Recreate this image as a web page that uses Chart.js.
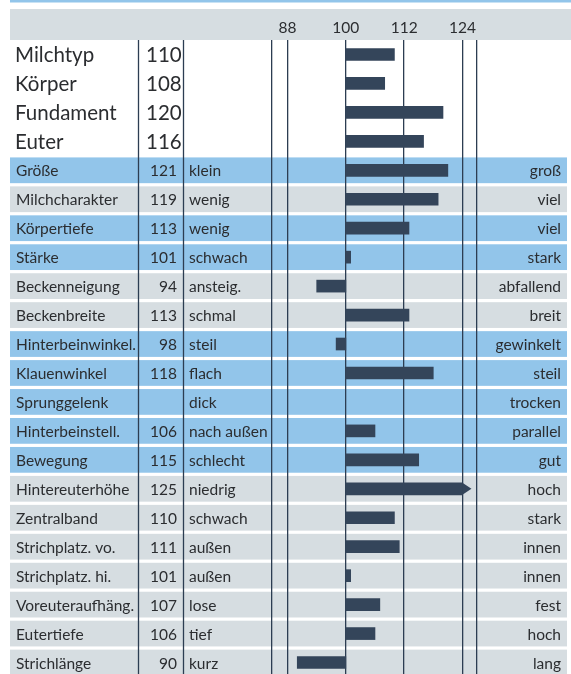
<!DOCTYPE html>
<html>
<head>
<meta charset="utf-8">
<script src="https://cdn.jsdelivr.net/npm/chart.js@4.4.1/dist/chart.umd.min.js"></script>
<style>
  html, body { margin: 0; padding: 0; background: #fff; overflow: hidden; }
</style>
</head>
<body>
<canvas id="zuchtwerte" width="571" height="680"></canvas>
<script>
// Gesamtzuchtwerte (oben, große Schrift)
const topTraits = ['Milchtyp', 'Körper', 'Fundament', 'Euter'];
const topValues = [110, 108, 120, 116];

// Einzelmerkmale
const traits = ['Größe', 'Milchcharakter', 'Körpertiefe', 'Stärke', 'Beckenneigung', 'Beckenbreite',
  'Hinterbeinwinkel.', 'Klauenwinkel', 'Sprunggelenk', 'Hinterbeinstell.', 'Bewegung', 'Hintereuterhöhe',
  'Zentralband', 'Strichplatz. vo.', 'Strichplatz. hi.', 'Voreuteraufhäng.', 'Eutertiefe', 'Strichlänge'];
const values = [121, 119, 113, 101, 94, 113, 98, 118, null, 106, 115, 125, 110, 111, 101, 107, 106, 90];
const lowLabels = ['klein', 'wenig', 'wenig', 'schwach', 'ansteig.', 'schmal', 'steil', 'flach', 'dick',
  'nach außen', 'schlecht', 'niedrig', 'schwach', 'außen', 'außen', 'lose', 'tief', 'kurz'];
const highLabels = ['groß', 'viel', 'viel', 'stark', 'abfallend', 'breit', 'gewinkelt', 'steil', 'trocken',
  'parallel', 'gut', 'hoch', 'stark', 'innen', 'innen', 'fest', 'hoch', 'lang'];
// blau hinterlegte Zeilen
const highlighted = [true, false, true, true, false, false, true, true, true, true, true,
  false, false, false, false, false, false, false];

const tickValues = [88, 100, 112, 124];
const AXIS_MIN = 84.8;
const AXIS_MAX = 127;
const BASE = 100;
const CAP = 124; // darüber wird ein Pfeil gezeichnet

const BLUE = '#92c5ea';
const GREY = '#d6dde1';
const INK = '#2b2d30';
const LINE = '#2c3d52';
const BAR = '#34455a';
const FONT = 'Lato, "Open Sans", sans-serif';

const labels = topTraits.concat(traits);
const allValues = topValues.concat(values);
const nTop = topTraits.length;

const tablePlugin = {
  id: 'table',
  beforeDraw(chart) {
    const ctx = chart.ctx;
    const y = chart.scales.y;
    const band = y.getPixelForValue(1) - y.getPixelForValue(0);
    ctx.save();
    // obere blaue Linie + Kopfzeile
    ctx.fillStyle = BLUE;
    ctx.fillRect(10, 0, 561, 2.5);
    ctx.fillStyle = GREY;
    ctx.fillRect(10, 9, 561, chart.chartArea.top - 9);
    // Zeilenbänder
    traits.forEach((t, i) => {
      const cy = y.getPixelForValue(nTop + i);
      ctx.fillStyle = highlighted[i] ? BLUE : GREY;
      ctx.fillRect(10, cy - band / 2 + 1.6, 557, band - 3.2);
    });
    ctx.restore();
  },
  afterDatasetsDraw(chart) {
    const ctx = chart.ctx;
    const meta = chart.getDatasetMeta(0);
    ctx.save();
    ctx.fillStyle = BAR;
    allValues.forEach((v, i) => {
      if (v == null || v <= CAP) return;
      const el = meta.data[i];
      const h = el.height;
      ctx.beginPath();
      ctx.moveTo(el.x, el.y - h / 2);
      ctx.lineTo(el.x + 9, el.y);
      ctx.lineTo(el.x, el.y + h / 2);
      ctx.closePath();
      ctx.fill();
    });
    ctx.restore();
  },
  afterDraw(chart) {
    const ctx = chart.ctx;
    const y = chart.scales.y;
    const top = chart.chartArea.top;
    const bottom = chart.chartArea.bottom;
    ctx.save();
    // Spaltenlinien
    ctx.strokeStyle = LINE;
    ctx.lineWidth = 1.3;
    [138.5, 183.5].forEach(x => {
      ctx.beginPath();
      ctx.moveTo(x, top);
      ctx.lineTo(x, bottom);
      ctx.stroke();
    });
    ctx.fillStyle = INK;
    ctx.textBaseline = 'middle';
    // Gesamtzuchtwerte
    ctx.font = '20.5px ' + FONT;
    topTraits.forEach((t, i) => {
      const cy = y.getPixelForValue(i) + 1;
      ctx.textAlign = 'left';
      ctx.fillText(t, 15, cy);
      ctx.fillText(String(topValues[i]), 146, cy);
    });
    // Einzelmerkmale
    ctx.font = '15.5px ' + FONT;
    traits.forEach((t, i) => {
      const cy = y.getPixelForValue(nTop + i) + 1;
      ctx.textAlign = 'left';
      ctx.fillText(t, 16, cy);
      ctx.fillText(lowLabels[i], 189, cy);
      ctx.textAlign = 'right';
      if (values[i] != null) ctx.fillText(String(values[i]), 177, cy);
      ctx.fillText(highLabels[i], 561, cy);
    });
    ctx.restore();
  }
};

new Chart(document.getElementById('zuchtwerte'), {
  type: 'bar',
  data: {
    labels: labels,
    datasets: [{
      data: allValues.map(v => v == null ? null : [BASE, Math.min(v, CAP)]),
      backgroundColor: BAR,
      barThickness: 12,
      borderWidth: 0
    }]
  },
  options: {
    indexAxis: 'y',
    responsive: false,
    animation: false,
    layout: { padding: { left: 272, right: 94, top: 9, bottom: 3 } },
    plugins: {
      legend: { display: false },
      tooltip: { enabled: false }
    },
    scales: {
      x: {
        position: 'top',
        min: AXIS_MIN,
        max: AXIS_MAX,
        afterBuildTicks: scale => {
          scale.ticks = [AXIS_MIN].concat(tickValues, [AXIS_MAX]).map(v => ({ value: v }));
        },
        afterFit: scale => { scale.height = 31; },
        border: { display: false },
        grid: { color: LINE, lineWidth: 1.3, drawTicks: false },
        ticks: {
          padding: 3,
          maxRotation: 0,
          autoSkip: false,
          color: INK,
          font: { family: FONT, size: 15.5 },
          callback: v => tickValues.includes(v) ? String(v) : ''
        }
      },
      y: {
        display: false
      }
    }
  },
  plugins: [tablePlugin]
});
</script>
</body>
</html>
